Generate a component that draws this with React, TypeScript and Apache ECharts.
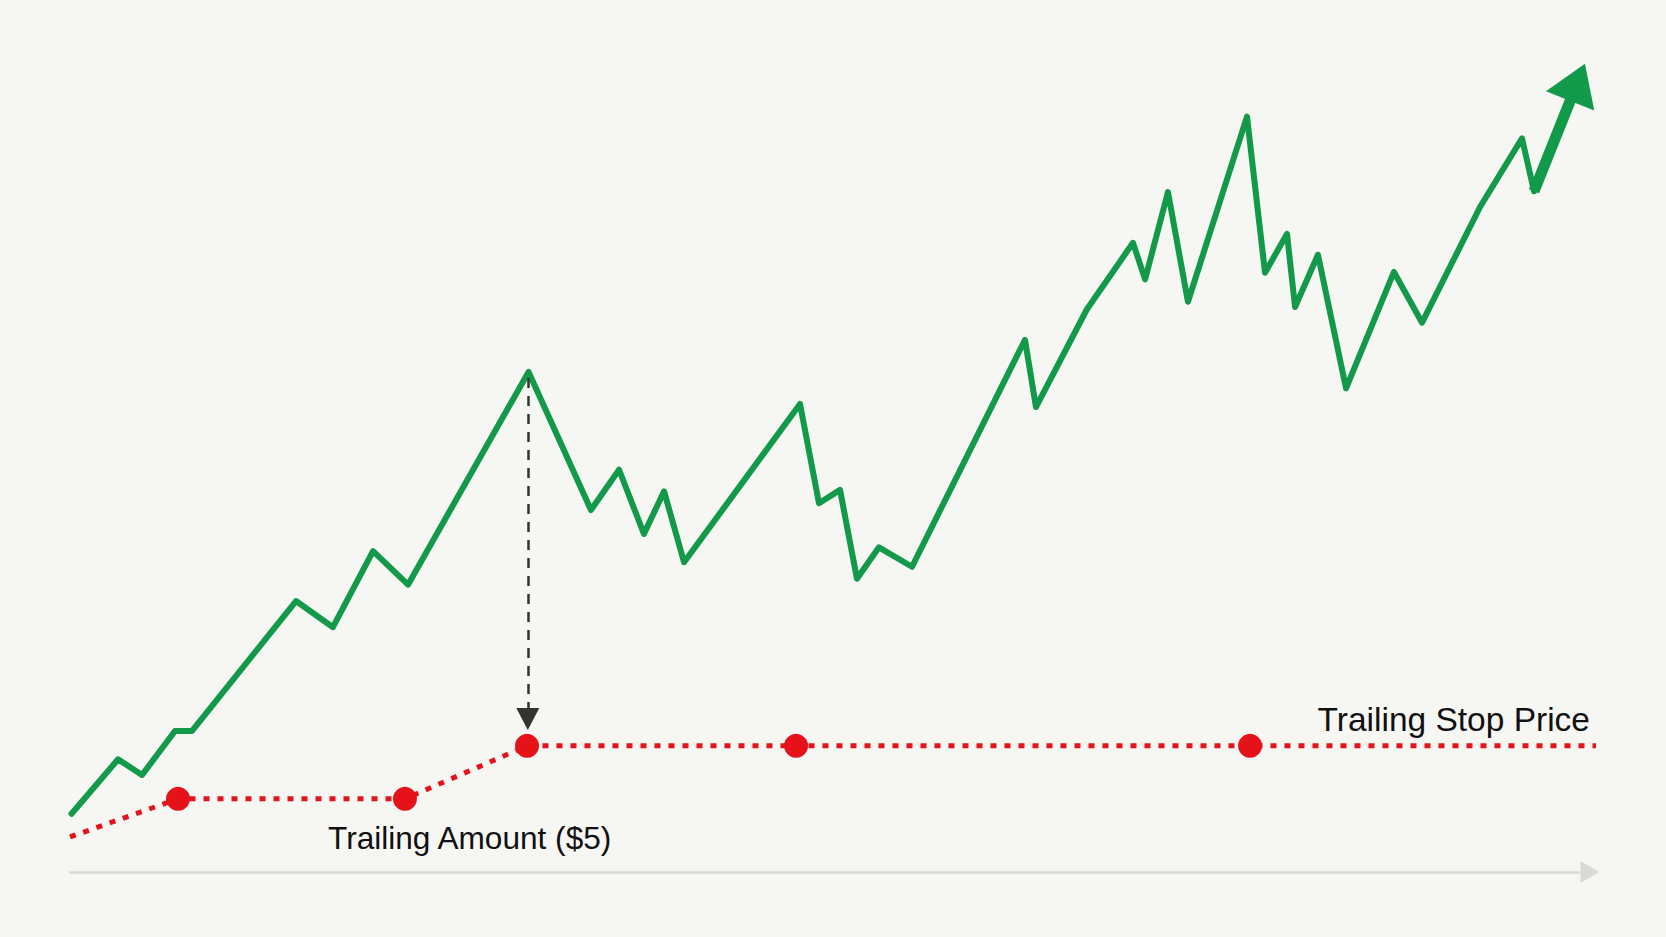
import React, { useEffect, useRef } from "react";
import * as echarts from "echarts";

// Price path (time index 0..100, price in $ above the baseline)
const priceTimes = [0.1, 3.15, 4.72, 6.88, 8.0, 14.81, 17.23, 19.86, 22.15, 30.05, 34.14, 35.98, 37.61, 38.93, 40.24, 47.84, 49.08, 50.46, 51.57, 53.01, 55.18, 62.58, 63.3, 66.64, 69.66, 70.45, 71.95, 73.26, 77.13, 78.31, 79.75, 80.28, 81.78, 83.62, 86.76, 88.6, 92.4, 95.15, 95.94];
const priceValues = [0.78, 1.51, 1.3, 1.89, 1.89, 3.63, 3.28, 4.3, 3.85, 6.7, 4.85, 5.39, 4.53, 5.1, 4.15, 6.27, 4.94, 5.12, 3.93, 4.35, 4.09, 7.13, 6.23, 7.54, 8.43, 7.94, 9.11, 7.64, 10.12, 8.03, 8.55, 7.57, 8.27, 6.48, 8.04, 7.36, 8.91, 9.83, 9.12];

// Final up-trend arrow (from last valley to arrow head centre)
const arrowFrom = [95.94, 9.12];
const arrowTo = [98.79, 10.58];

// Trailing stop price line
const stopTimes = [0, 7.08, 21.95, 29.95, 47.58, 77.33, 100];
const stopValues = [0.47, 0.98, 0.98, 1.69, 1.69, 1.69, 1.69];
const stopDotIndices = [1, 2, 3, 4, 5];

// Trailing amount indicator (peak down to stop)
const trailFrom = [30.0, 6.62];
const trailTo = [30.0, 2.05];

const labelStop = "Trailing Stop Price";
const labelAmount = "Trailing Amount ($5)";

const GREEN = "#12994a";
const RED = "#e5121a";

export default function App() {
  const ref = useRef<HTMLDivElement>(null);

  useEffect(() => {
    if (!ref.current) return;
    const chart = echarts.init(ref.current, undefined, { renderer: "svg" });
    const priceData = priceTimes.map((t, i) => [t, priceValues[i]]);
    const stopData = stopTimes.map((t, i) => [t, stopValues[i]]);
    const dotData = stopDotIndices.map((i) => [stopTimes[i], stopValues[i]]);

    chart.setOption({
      animation: false,
      backgroundColor: "#f6f6f3",
      grid: { left: 70, right: 70, top: 51, bottom: 65 },
      xAxis: {
        type: "value",
        min: 0,
        max: 100,
        splitLine: { show: false },
        axisTick: { show: false },
        axisLabel: { show: false },
        axisLine: {
          show: true,
          onZero: false,
          symbol: ["none", "triangle"],
          symbolSize: [22, 19],
          symbolOffset: [0, -6],
          lineStyle: { color: "#d9d9d7", width: 2.5 },
        },
      },
      yAxis: {
        type: "value",
        min: 0,
        max: 11,
        show: false,
        splitLine: { show: false },
      },
      series: [
        {
          type: "line",
          data: stopData,
          symbol: "none",
          silent: true,
          z: 2,
          lineStyle: { color: RED, width: 5, type: [6, 8] },
          markLine: {
            silent: true,
            symbol: ["none", "triangle"],
            symbolSize: [23, 22],
            label: { show: false },
            lineStyle: { color: "#333333", width: 2.5, type: [10, 8] },
            data: [[{ coord: trailFrom }, { coord: trailTo }]],
          },
        },
        {
          type: "scatter",
          data: dotData,
          symbol: "circle",
          symbolSize: 24,
          silent: true,
          z: 3,
          itemStyle: { color: RED, opacity: 1 },
        },
        {
          type: "line",
          data: priceData,
          symbol: "none",
          silent: true,
          z: 4,
          lineStyle: { color: GREEN, width: 6, join: "round", cap: "round" },
          markLine: {
            silent: true,
            symbol: ["none", "triangle"],
            symbolSize: [52, 40],
            label: { show: false },
            lineStyle: { color: GREEN, width: 11, type: "solid", cap: "butt" },
            data: [[{ coord: arrowFrom }, { coord: arrowTo }]],
          },
        },
      ],
      graphic: [
        {
          type: "text",
          x: 1590,
          y: 719,
          style: {
            text: labelStop,
            fill: "#111111",
            font: '33.5px "Liberation Sans", Arial, sans-serif',
            align: "right",
            verticalAlign: "middle",
          },
        },
        {
          type: "text",
          x: 328,
          y: 838,
          style: {
            text: labelAmount,
            fill: "#111111",
            font: '31.6px "Liberation Sans", Arial, sans-serif',
            align: "left",
            verticalAlign: "middle",
          },
        },
      ],
    });
    return () => chart.dispose();
  }, []);

  return (
    <div
      ref={ref}
      style={{ position: "absolute", left: 0, top: 0, width: 1666, height: 937 }}
    />
  );
}
